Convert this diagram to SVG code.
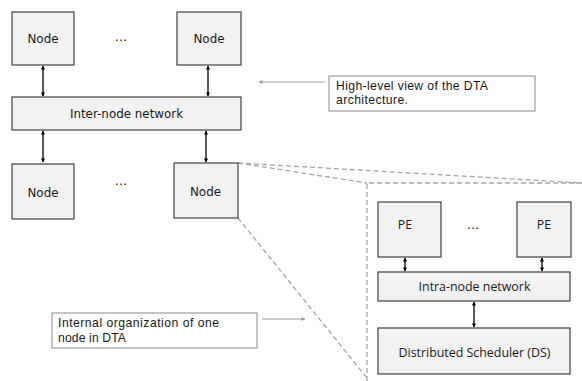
<svg xmlns="http://www.w3.org/2000/svg" width="582" height="381" viewBox="0 0 582 381">
<defs>
<style>
.box{fill:#f2f2f2;stroke:#404040;stroke-width:1.2}
.note{fill:#ffffff;stroke:#a6a6a6;stroke-width:1.3}
.t1{font-family:"DejaVu Sans",Verdana,sans-serif;font-size:11.9px;fill:#1a1a1a;text-anchor:middle}
.t2{font-family:"Open Sans","Liberation Sans",sans-serif;font-size:12.4px;fill:#1a1a1a;text-anchor:middle}
.tn{font-family:"Liberation Sans",Arial,sans-serif;font-size:12.2px;fill:#1a1a1a}
.dots{font-family:"DejaVu Sans",sans-serif;font-size:13px;fill:#1a1a1a;text-anchor:middle}
.bi{stroke:#000;stroke-width:1.3;fill:none;marker-start:url(#ah);marker-end:url(#ah)}
.ga{stroke:#a0a0a0;stroke-width:1.2;fill:none;marker-end:url(#gh)}
.dash{stroke:#a6a6a6;stroke-width:1.3;fill:none;stroke-dasharray:5,3}
</style>
<marker id="ah" viewBox="0 0 10 10" refX="9" refY="5" markerWidth="4" markerHeight="4" orient="auto-start-reverse" markerUnits="userSpaceOnUse"><path d="M0,0 L10,5 L0,10 z" fill="#000"/></marker>
<marker id="gh" viewBox="0 0 10 10" refX="9" refY="5" markerWidth="5" markerHeight="4" orient="auto" markerUnits="userSpaceOnUse"><path d="M0,0 L10,5 L0,10 z" fill="#a0a0a0"/></marker>
</defs>

<g id="connectors">
<line class="bi" x1="43" y1="66" x2="43" y2="96"/>
<line class="bi" x1="208" y1="66" x2="208" y2="96"/>
<line class="bi" x1="43" y1="131" x2="43" y2="162"/>
<line class="bi" x1="206" y1="131" x2="206" y2="162"/>
<line class="bi" x1="405" y1="258" x2="405" y2="271"/>
<line class="bi" x1="542" y1="258" x2="542" y2="271"/>
<line class="bi" x1="474" y1="302" x2="474" y2="327"/>
<line class="ga" x1="325" y1="82" x2="259" y2="82"/>
<line class="ga" x1="262" y1="319" x2="305" y2="319"/>
<line class="dash" x1="238" y1="163" x2="582" y2="183"/>
<line class="dash" x1="238" y1="163" x2="367" y2="183"/>
<line class="dash" x1="238" y1="218" x2="367" y2="378"/>
<polyline class="dash" points="582,183 367,183 367,381"/>
</g>

<g id="node-top-left"><rect class="box" x="12" y="12" width="62" height="53"/><text class="t1" x="43" y="43">Node</text></g>
<g id="node-top-right"><rect class="box" x="177" y="12" width="64" height="53"/><text class="t1" x="209" y="43">Node</text></g>
<g id="dots-top"><text class="dots" x="121" y="41">...</text></g>
<g id="inter-node-network"><rect class="box" x="12" y="97" width="229" height="33"/><text class="t1" x="126.5" y="117.5">Inter-node network</text></g>
<g id="node-bottom-left"><rect class="box" x="12" y="164" width="62" height="55"/><text class="t1" x="43" y="196.5">Node</text></g>
<g id="node-bottom-right"><rect class="box" x="174" y="163" width="64" height="55"/><text class="t1" x="205.5" y="195.5">Node</text></g>
<g id="dots-bottom"><text class="dots" x="121" y="185">...</text></g>

<g id="note-high-level"><rect class="note" x="329" y="76" width="206" height="35"/><text class="tn" x="336" y="90" textLength="152" lengthAdjust="spacing">High-level view of the DTA</text><text class="tn" x="336" y="104.2" textLength="72" lengthAdjust="spacing">architecture.</text></g>
<g id="note-internal"><rect class="note" x="52" y="313" width="205" height="35"/><text class="tn" x="58" y="327" textLength="161" lengthAdjust="spacing">Internal organization of one</text><text class="tn" x="58" y="342" textLength="68" lengthAdjust="spacing">node in DTA</text></g>

<g id="pe-left"><rect class="box" x="378" y="202" width="63" height="55"/><text class="t2" x="405" y="229">PE</text></g>
<g id="pe-right"><rect class="box" x="517" y="202" width="54" height="55"/><text class="t2" x="544" y="229">PE</text></g>
<g id="dots-pe"><text class="dots" x="473" y="229">...</text></g>
<g id="intra-node-network"><rect class="box" x="378" y="272" width="192" height="29"/><text class="t2" x="474.5" y="290.5">Intra-node network</text></g>
<g id="distributed-scheduler"><rect class="box" x="378" y="328" width="192" height="46"/><text class="t2" x="474.5" y="356.5">Distributed Scheduler (DS)</text></g>
</svg>
